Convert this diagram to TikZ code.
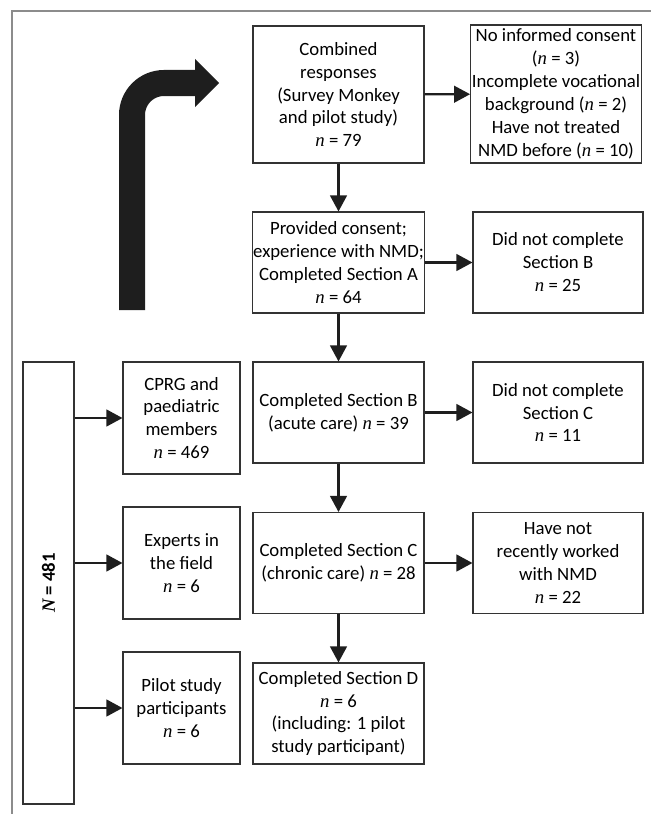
\documentclass[tikz,border=0pt]{standalone}
\usepackage{fontspec}
\setmainfont{Carlito}
\newfontfamily\serifn{Liberation Serif}
\usetikzlibrary{arrows.meta,positioning}
\newcommand{\nn}{{\serifn\itshape n}}
\newcommand{\NN}{{\serifn\bfseries\itshape N}}
\definecolor{ink}{HTML}{1E1E1E}
\definecolor{edge}{HTML}{333333}

\begin{document}
\begin{tikzpicture}[x=0.03cm,y=-0.03cm]
  \tikzset{
    box/.style={draw=edge, line width=0.9pt, fill=white, minimum width=5.13cm, minimum height=3.03cm, align=center, inner sep=1pt, font=\fontsize{16}{19.6}\selectfont},
    side/.style={box, minimum width=5.1cm},
    src/.style={box, minimum width=3.51cm, minimum height=3.36cm},
    flow/.style={-{Triangle[length=0.48cm, width=0.5cm]}, ink, line width=1.9pt},
    frame/.style={draw=black!45, line width=0.9pt}
  }
  \useasboundingbox (0,0) rectangle (651,814);

  % columns
  \def\xL{181.5}
  \def\xM{338.5}
  \def\xR{558}

  % panel frame
  \draw[frame] (651,11) -- (12,11) -- (12,814);

  % big bent arrow
  \draw[ink, line width=0.78cm, rounded corners=0.96cm] (132,310) |- (196,83);
  \fill[ink] (195,59) -- (219,83) -- (195,107) -- cycle;

  % main flow
  \node[box, minimum height=4.11cm] (comb) at (\xM,94.5) {Combined\\responses\\(Survey Monkey\\and pilot study)\\\nn{} = 79};
  \node[box] (cons) at (\xM,262.5) {Provided consent;\\experience with NMD;\\Completed Section A\\\nn{} = 64};
  \node[box] (secb) at (\xM,412.5) {Completed Section B\\(acute care) \nn{} = 39};
  \node[box] (secc) at (\xM,563) {Completed Section C\\(chronic care) \nn{} = 28};
  \node[box] (secd) at (\xM,713.5) {Completed Section D\\\nn{} = 6\\(including: 1 pilot\\study participant)};

  % exclusions
  \node[side, minimum width=4.98cm, minimum height=4.14cm] (excl) at (556,94) {No informed consent\\(\nn{} = 3)\\Incomplete vocational\\background (\nn{} = 2)\\Have not treated\\NMD before (\nn{} = 10)};
  \node[side] (nosb) at (\xR,262.5) {Did not complete\\Section B\\\nn{} = 25};
  \node[side] (nosc) at (\xR,412.5) {Did not complete\\Section C\\\nn{} = 11};
  \node[side] (nowk) at (\xR,563) {Have not\\recently worked\\with NMD\\\nn{} = 22};

  % sources
  \node[box, minimum width=13.26cm, minimum height=1.53cm, rotate=90] (total) at (48.5,583) {\bfseries\NN{} = 481};
  \node[src] (cprg) at (\xL,418) {CPRG and\\paediatric\\members\\\nn{} = 469};
  \node[src] (expt) at (\xL,563) {Experts in\\the field\\\nn{} = 6};
  \node[src] (pilt) at (\xL,708) {Pilot study\\participants\\\nn{} = 6};

  % arrows
  \draw[flow] (comb) -- (cons);
  \draw[flow] (cons) -- (secb);
  \draw[flow] (secb) -- (secc);
  \draw[flow] (secc) -- (secd);
  \draw[flow] (comb) -- (excl);
  \draw[flow] (cons) -- (nosb);
  \draw[flow] (secb) -- (nosc);
  \draw[flow] (secc) -- (nowk);
  \draw[flow] (cprg.west -| total.south) -- (cprg.west);
  \draw[flow] (expt.west -| total.south) -- (expt.west);
  \draw[flow] (pilt.west -| total.south) -- (pilt.west);

\end{tikzpicture}
\end{document}
